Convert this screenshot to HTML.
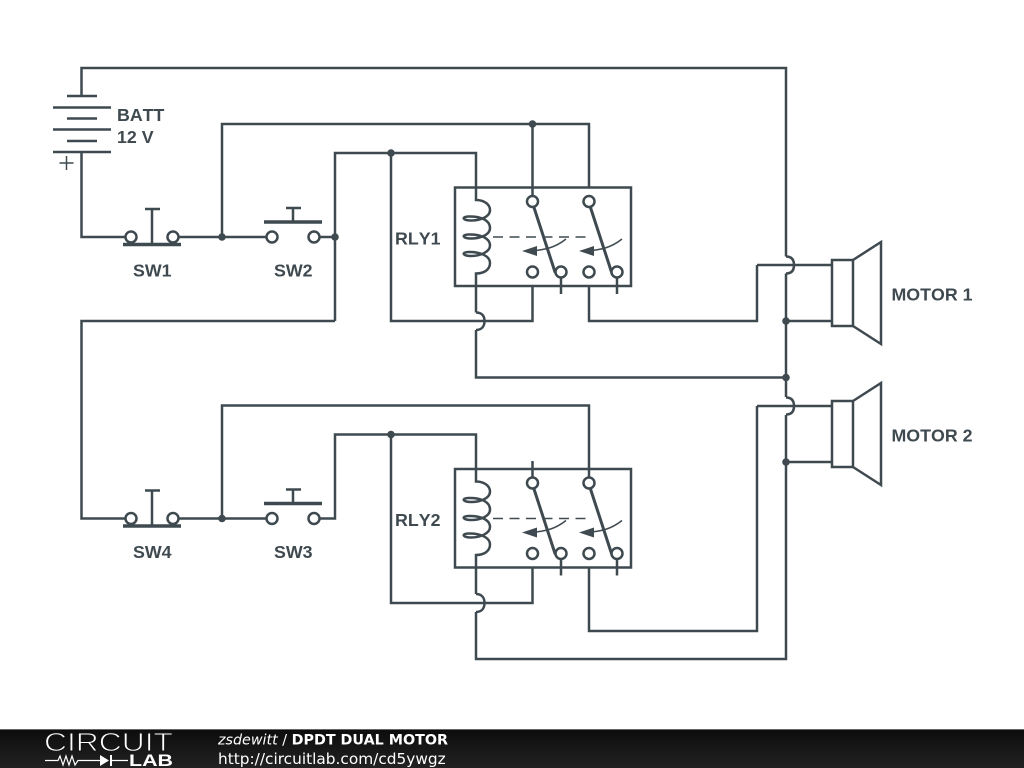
<!DOCTYPE html>
<html><head><meta charset="utf-8"><style>
html,body{margin:0;padding:0;background:#fff}
svg{display:block}
.w{fill:none;stroke:#3f4a50;stroke-width:2.5}
.t{fill:none;stroke:#3f4a50;stroke-width:1.5}
.c{fill:#fff;stroke:#3f4a50;stroke-width:2.5}
.d{fill:#3f4a50}
.l{font:bold 17.8px "Liberation Sans",sans-serif;fill:#3f4a50;font-kerning:none}
</style></head><body>
<svg width="1024" height="768" viewBox="0 0 1024 768" xmlns="http://www.w3.org/2000/svg">
<defs>
<linearGradient id="fg" x1="0" y1="0" x2="0" y2="1"><stop offset="0" stop-color="#0c0c0c"/><stop offset="1" stop-color="#222"/></linearGradient>
<g id="relay">
<rect class="w" x="455" y="187.5" width="176" height="98.500"/>
<path class="w" d="M476 187.500V200C485 200 490 205 490 210C490 217 480 220.500 471 220.500C463 220.500 461 217 468 216.500C480 216 490 220 490 228C490 235 480 238.500 471 238.500C463 238.500 461 235 468 234.500C480 234 490 238 490 245.500C490 252 480 256 471 256C463 256 461 252.500 468 252C480 251.500 490 256 490 263C490 269 485 273.500 476 273.500V286"/>
<path d="M493 237H590" fill="none" stroke="#3f4a50" stroke-width="1.500" stroke-dasharray="10 6.500"/>
<path class="w" stroke-linecap="round" d="M533.500 206L555 272M590 206L611.500 272" style="stroke-width:3"/>
<path class="t" d="M566 239C556 247 546 250 530 251M622 239C612 247 602 250 586 251"/>
<path class="d" d="M522 251L537 246V256ZM579 251L594 246V256Z"/>
<circle class="c" cx="532.500" cy="201.500" r="5.500"/><circle class="c" cx="589" cy="201.500" r="5.500"/>
<circle class="c" cx="532.500" cy="272" r="5.500"/><circle class="c" cx="561" cy="272" r="5.500"/>
<circle class="c" cx="589" cy="272" r="5.500"/><circle class="c" cx="617" cy="272" r="5.500"/>
<path class="w" d="M561 277.500V294M617 277.500V294"/>
</g>
<g id="sw">
<path class="w" d="M152 209V244M145 209H160"/>
<path class="w" style="stroke-width:3.500" d="M123 244.500H181"/>
<circle class="c" cx="131" cy="237" r="5.500"/><circle class="c" cx="173" cy="237" r="5.500"/>
<path class="w" d="M293 208V222M286 208H301"/>
<path class="w" style="stroke-width:3.500" d="M264 222H322"/>
<circle class="c" cx="272" cy="237" r="5.500"/><circle class="c" cx="314" cy="237" r="5.500"/>
<path class="w" d="M178.500 237H266.500"/>
<circle class="d" cx="222" cy="237" r="3.800"/>
</g>
<g id="motor">
<rect class="w" x="832" y="260" width="21" height="66"/>
<path class="w" d="M853 260L881 242V344L853 326"/>
<path class="w" d="M786 321H832"/>
<circle class="d" cx="786" cy="321" r="3.800"/>
<path class="w" d="M757 265H832"/>
<path class="w" d="M786 256.500C792 256.500 794 260 794 265C794 270 792 273.500 786 273.500"/>
</g>
</defs>

<!-- battery -->
<path class="w" d="M67 96H97M53 107.500H111M67 118.500H97M53 129.500H111M67 141H97M53 152H111"/>
<path class="t" d="M59.500 163H73.500M66.500 156V170"/>
<path class="w" d="M81.500 96V68H786V256.500M786 273.500V397M786 415V659H476V612M476 594V568"/>
<path class="w" d="M81.500 152V237H125.500"/>
<!-- SW2 output and upper bus -->
<path class="w" d="M319.500 237H335"/>
<path class="w" d="M222 237V124H589V187.500M532.500 124V196"/>
<path class="w" d="M335 321V153H476V187.500M391 153V321H532.500V286"/>
<path class="w" d="M476 286V312.500M476 330V377.500H786"/>
<path class="w" d="M476 312.500C482 312.500 484.500 316 484.500 321C484.500 326 482 330 476 330"/>
<path class="w" d="M335 321H81.500V518.500H125.500"/>
<path class="w" d="M589 286V321H757V265"/>
<circle class="d" cx="532.500" cy="124" r="3.800"/>
<circle class="d" cx="391" cy="153" r="3.800"/>
<circle class="d" cx="335" cy="237" r="3.800"/>
<circle class="d" cx="786" cy="377.500" r="3.800"/>

<!-- lower -->
<path class="w" d="M319.500 518.500H335V434.500H476V469M391 434.500V603H532.500V568"/>
<path class="w" d="M222 518.500V405.500H589V478M532.500 461V477"/>
<path class="w" d="M476 594C482 594 484.500 598 484.500 603C484.500 608 482 612 476 612"/>
<path class="w" d="M589 568V631H757V406"/>
<circle class="d" cx="391" cy="434.500" r="3.800"/>

<use href="#relay"/>
<use href="#relay" y="281.500"/>
<use href="#sw"/>
<use href="#sw" y="281.500"/>
<use href="#motor"/>
<use href="#motor" y="141"/>

<text class="l" x="117" y="121">BATT</text>
<text class="l" x="117" y="143">12 V</text>
<text class="l" x="133" y="276.500">SW1</text>
<text class="l" x="274" y="276.500">SW2</text>
<text class="l" x="133" y="558">SW4</text>
<text class="l" x="274" y="558">SW3</text>
<text class="l" x="395" y="244.500">RLY1</text>
<text class="l" x="395" y="526">RLY2</text>
<text class="l" x="891.500" y="300.500">MOTOR 1</text>
<text class="l" x="891.500" y="441.500">MOTOR 2</text>

<!-- footer -->
<rect x="0" y="729" width="1024" height="39" fill="url(#fg)"/>
<rect x="0" y="729" width="1024" height="1" fill="#666"/>
<text x="44" y="751" font-family="Liberation Sans, sans-serif" font-size="25.500" fill="#fff" stroke="#141414" stroke-width="0.900" textLength="129" lengthAdjust="spacingAndGlyphs">CIRCUIT</text>
<path d="M45 760.500H58L60 756L63 765L66 756L69 765L72 756L75 765L78 760.500H100M111 760.500H128" fill="none" stroke="#fff" stroke-width="1.200"/>
<path d="M100 755L109 760.500L100 766ZM110 755H112V766H110Z" fill="#fff"/>
<text x="129" y="766" font-family="Liberation Sans, sans-serif" font-size="17" font-weight="bold" fill="#fff" textLength="44" lengthAdjust="spacingAndGlyphs">LAB</text>
<text x="218" y="744.500" font-family="DejaVu Sans, sans-serif" font-size="14.300" fill="#fff"><tspan font-style="italic">zsdewitt</tspan> / <tspan font-weight="bold">DPDT DUAL MOTOR</tspan></text>
<text x="218" y="764" font-family="DejaVu Sans, sans-serif" font-size="15.350" fill="#fff">http://circuitlab.com/cd5ywgz</text>
</svg>
</body></html>
